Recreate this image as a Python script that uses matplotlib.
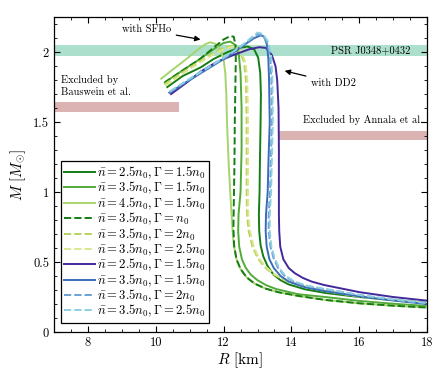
import matplotlib
matplotlib.use("Agg")
import matplotlib.pyplot as plt
from matplotlib.ticker import MultipleLocator

plt.rcParams["font.family"] = "serif"
plt.rcParams["font.serif"] = ["cmr10"]
plt.rcParams["mathtext.fontset"] = "cm"
plt.rcParams["axes.formatter.use_mathtext"] = True
plt.rcParams["axes.unicode_minus"] = False

# Mass-radius curves (R in km, M in solar masses), traced from the
# unstable branch end through the maximum mass down to the low-mass tail.

# SFHo-based models
R_sfho_25_15 = [10.34, 10.8, 11.32, 11.7, 12.12, 12.45, 12.71, 12.9, 13.02, 13.08, 13.1, 13.09, 13.07, 13.06,
                13.04, 13.05, 13.09, 13.17, 13.3, 13.47, 13.68, 13.92, 14.4, 15.0, 16.0, 17.0, 18.0, 18.5]
M_sfho_25_15 = [1.75, 1.83, 1.89, 1.95, 2.0, 2.03, 2.04, 2.02, 1.96, 1.85, 1.7, 1.5, 1.2, 1.0,
                0.84, 0.72, 0.62, 0.54, 0.47, 0.41, 0.37, 0.34, 0.305, 0.279, 0.25, 0.228, 0.209, 0.2]

R_sfho_35_15 = [10.3, 10.8, 11.3, 11.7, 12.0, 12.2, 12.35, 12.45, 12.5, 12.53, 12.53, 12.5, 12.44,
                12.43, 12.46, 12.54, 12.65, 12.8, 13.0, 13.25, 13.55, 14.2, 15.0, 16.0, 17.0, 18.0, 18.5]
M_sfho_35_15 = [1.79, 1.87, 1.95, 2.02, 2.065, 2.075, 2.05, 1.98, 1.85, 1.6, 1.3, 1.0, 0.84,
                0.72, 0.61, 0.52, 0.46, 0.41, 0.37, 0.335, 0.307, 0.27, 0.25, 0.222, 0.202, 0.186, 0.18]

R_sfho_45_15 = [10.16, 10.5, 10.85, 11.2, 11.45, 11.6, 11.75, 11.9, 12.0, 12.05, 12.08, 12.1, 12.15,
                12.22, 12.26, 12.3, 12.38, 12.5, 12.68, 12.92, 13.24, 13.6, 14.2, 15.0, 16.0, 17.0, 18.0, 18.5]
M_sfho_45_15 = [1.81, 1.875, 1.94, 2.01, 2.055, 2.07, 2.06, 2.02, 1.95, 1.85, 1.7, 1.5, 1.2,
                0.9, 0.74, 0.62, 0.52, 0.45, 0.39, 0.345, 0.31, 0.285, 0.258, 0.229, 0.205, 0.188, 0.175, 0.17]

R_sfho_35_10 = [10.25, 10.8, 11.3, 11.7, 12.0, 12.2, 12.3, 12.35, 12.36, 12.35, 12.33, 12.32, 12.3,
                12.29, 12.31, 12.38, 12.5, 12.68, 12.92, 13.24, 13.6, 14.2, 15.0, 16.0, 17.0, 18.0, 18.5]
M_sfho_35_10 = [1.78, 1.87, 1.95, 2.03, 2.09, 2.115, 2.11, 2.05, 1.95, 1.8, 1.5, 1.2, 0.9,
                0.74, 0.62, 0.52, 0.45, 0.39, 0.345, 0.31, 0.285, 0.258, 0.229, 0.205, 0.188, 0.175, 0.17]

R_sfho_35_20 = [10.25, 11.0, 11.6, 12.0, 12.25, 12.45, 12.6, 12.66, 12.68, 12.68, 12.69, 12.74, 12.85,
                13.0, 13.2, 13.45, 13.75, 14.1, 14.5, 15.0, 16.0, 17.0, 18.0, 18.5]
M_sfho_35_20 = [1.77, 1.89, 1.98, 2.03, 2.045, 2.02, 1.93, 1.8, 1.5, 1.0, 0.84, 0.72, 0.61,
                0.53, 0.465, 0.415, 0.375, 0.345, 0.318, 0.292, 0.252, 0.226, 0.206, 0.198]

R_sfho_35_25 = [10.28, 11.0, 11.6, 12.0, 12.28, 12.5, 12.65, 12.7, 12.72, 12.72, 12.73, 12.78, 12.89,
                13.04, 13.24, 13.49, 13.79, 14.14, 14.54, 15.0, 16.0, 17.0, 18.0, 18.5]
M_sfho_35_25 = [1.76, 1.88, 1.97, 2.02, 2.04, 2.015, 1.92, 1.8, 1.5, 1.0, 0.84, 0.72, 0.61,
                0.53, 0.465, 0.415, 0.375, 0.345, 0.318, 0.294, 0.254, 0.228, 0.208, 0.2]

# DD2-based models
R_dd2_25_15 = [10.45, 10.9, 11.32, 11.8, 12.3, 12.75, 13.05, 13.25, 13.42, 13.53, 13.58, 13.62, 13.63,
               13.63, 13.63, 13.64, 13.67, 13.76, 13.92, 14.1, 14.34, 14.6, 14.96, 16.0, 17.0, 18.0, 18.5]
M_dd2_25_15 = [1.70, 1.78, 1.86, 1.93, 1.98, 2.02, 2.035, 2.03, 1.98, 1.9, 1.8, 1.6, 1.3,
               1.0, 0.84, 0.72, 0.61, 0.52, 0.457, 0.42, 0.386, 0.36, 0.336, 0.285, 0.25, 0.224, 0.213]

R_dd2_35_15 = [10.4, 11.0, 11.6, 12.2, 12.6, 12.9, 13.1, 13.2, 13.28, 13.32, 13.34, 13.36, 13.32,
               13.3, 13.25, 13.24, 13.27, 13.35, 13.48, 13.68, 13.92, 14.4, 14.96, 16.0, 17.0, 18.0, 18.5]
M_dd2_35_15 = [1.71, 1.8, 1.89, 1.98, 2.05, 2.1, 2.12, 2.11, 2.05, 1.95, 1.8, 1.5, 1.2,
               1.0, 0.84, 0.72, 0.61, 0.52, 0.457, 0.4, 0.36, 0.32, 0.293, 0.255, 0.225, 0.2, 0.192]

R_dd2_35_20 = [10.41, 11.0, 11.6, 12.2, 12.6, 12.85, 13.0, 13.15, 13.28, 13.37, 13.41, 13.42, 13.39,
               13.37, 13.33, 13.33, 13.38, 13.47, 13.6, 13.78, 14.02, 14.4, 14.96, 16.0, 17.0, 18.0, 18.5]
M_dd2_35_20 = [1.715, 1.805, 1.895, 1.985, 2.055, 2.1, 2.13, 2.12, 2.07, 1.98, 1.8, 1.5, 1.2,
               1.0, 0.84, 0.72, 0.61, 0.53, 0.46, 0.405, 0.365, 0.33, 0.306, 0.264, 0.231, 0.206, 0.198]

R_dd2_35_25 = [10.42, 11.0, 11.6, 12.2, 12.6, 12.85, 13.0, 13.15, 13.3, 13.4, 13.44, 13.45, 13.42,
               13.4, 13.36, 13.36, 13.41, 13.5, 13.63, 13.81, 14.05, 14.43, 14.96, 16.0, 17.0, 18.0, 18.5]
M_dd2_35_25 = [1.72, 1.81, 1.9, 1.99, 2.06, 2.11, 2.14, 2.13, 2.08, 1.98, 1.8, 1.5, 1.2,
               1.0, 0.84, 0.72, 0.61, 0.53, 0.46, 0.405, 0.365, 0.332, 0.31, 0.265, 0.232, 0.207, 0.199]

# Observational constraints
psr_band = (1.97, 2.05)
bauswein_band = (1.57, 1.64)
bauswein_rmax = 10.68
annala_band = (1.37, 1.435)
annala_rmin = 13.6

curves = [
    (R_sfho_25_15, M_sfho_25_15, "#147d14", "-", r"$\bar{n}=2.5n_0, \Gamma=1.5n_0$"),
    (R_sfho_35_15, M_sfho_35_15, "#52aa3a", "-", r"$\bar{n}=3.5n_0, \Gamma=1.5n_0$"),
    (R_sfho_45_15, M_sfho_45_15, "#a8d46c", "-", r"$\bar{n}=4.5n_0, \Gamma=1.5n_0$"),
    (R_sfho_35_10, M_sfho_35_10, "#147d14", "--", r"$\bar{n}=3.5n_0, \Gamma=n_0$"),
    (R_sfho_35_20, M_sfho_35_20, "#b8d35a", "--", r"$\bar{n}=3.5n_0, \Gamma=2n_0$"),
    (R_sfho_35_25, M_sfho_35_25, "#dde68e", "--", r"$\bar{n}=3.5n_0, \Gamma=2.5n_0$"),
    (R_dd2_25_15, M_dd2_25_15, "#43289b", "-", r"$\bar{n}=2.5n_0, \Gamma=1.5n_0$"),
    (R_dd2_35_15, M_dd2_35_15, "#3a6cb8", "-", r"$\bar{n}=3.5n_0, \Gamma=1.5n_0$"),
    (R_dd2_35_20, M_dd2_35_20, "#6a9fd4", "--", r"$\bar{n}=3.5n_0, \Gamma=2n_0$"),
    (R_dd2_35_25, M_dd2_35_25, "#8ccfe3", "--", r"$\bar{n}=3.5n_0, \Gamma=2.5n_0$"),
]

fig = plt.figure(figsize=(4.35, 3.72), dpi=100)
ax = fig.add_axes([0.124, 0.1075, 0.858, 0.8465])

ax.axhspan(*psr_band, color="#acdfcc", lw=0, zorder=1)
ax.fill_between([7, bauswein_rmax], *bauswein_band, color="#dbb3b3", lw=0, zorder=1)
ax.fill_between([annala_rmin, 18], *annala_band, color="#dbb3b3", lw=0, zorder=1)

for R, M, c, ls, lab in curves:
    ax.plot(R, M, color=c, ls=ls, lw=1.4, label=lab, zorder=3)

ax.text(17.5, 2.01, "PSR J0348+0432", ha="right", va="center", fontsize=7.5)
ax.text(7.22, 1.76, "Excluded by\nBauswein et al.", ha="left", va="center", fontsize=7.5,
        linespacing=1.3)
ax.text(17.88, 1.515, "Excluded by Annala et al.", ha="right", va="center", fontsize=7.5)
ax.annotate("with SFHo", xy=(11.32, 2.09), xytext=(9.72, 2.16), ha="center", va="center",
            fontsize=7.5, arrowprops=dict(arrowstyle="-|>", color="black", lw=0.9,
                                          shrinkA=2, shrinkB=0, mutation_scale=8))
ax.annotate("with DD2", xy=(13.8, 1.866), xytext=(15.25, 1.78), ha="center", va="center",
            fontsize=7.5, arrowprops=dict(arrowstyle="-|>", color="black", lw=0.9,
                                          shrinkA=2, shrinkB=0, mutation_scale=8))

ax.set_xlim(7, 18)
ax.set_ylim(0, 2.25)
ax.xaxis.set_minor_locator(MultipleLocator(0.5))
ax.yaxis.set_minor_locator(MultipleLocator(0.1))
ax.set_yticks([0, 0.5, 1, 1.5, 2])
ax.set_yticklabels(["0", "0.5", "1", "1.5", "2"])
ax.set_xticks([8, 10, 12, 14, 16, 18])
ax.set_xticklabels(["8", "10", "12", "14", "16", "18"])
ax.tick_params(which="both", direction="in", top=True, right=True, labelsize=9)
ax.tick_params(which="major", length=4, width=0.8)
ax.tick_params(which="minor", length=2, width=0.6)
for s in ax.spines.values():
    s.set_linewidth(0.9)

ax.set_xlabel(r"$R$ [km]", fontsize=11, labelpad=1)
ax.set_ylabel(r"$M\ [M_{\odot}]$", fontsize=11, labelpad=4)

leg = ax.legend(loc="lower left", bbox_to_anchor=(0.018, 0.028), fontsize=9.1, frameon=True,
                fancybox=False, edgecolor="black", framealpha=1, handlelength=2.4,
                handletextpad=0.15, borderpad=0.3, labelspacing=-0.07, borderaxespad=0)
leg.get_frame().set_linewidth(0.9)
leg.set_zorder(5)

fig.savefig("out.png", dpi=100)
